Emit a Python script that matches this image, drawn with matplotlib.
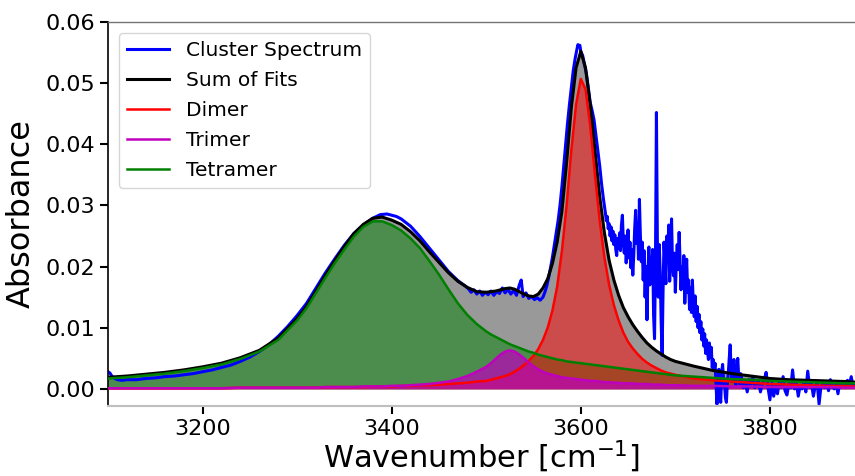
import matplotlib
matplotlib.use("Agg")
import matplotlib.pyplot as plt

# ---------------- data ----------------
fit_x = [3100, 3120, 3140, 3160, 3180, 3200, 3220, 3240, 3260, 3280,
         3300, 3310, 3320, 3330, 3340, 3350, 3360, 3370, 3380, 3390,
         3400, 3410, 3420, 3430, 3440, 3450, 3460, 3470, 3480, 3490,
         3500, 3505, 3510, 3515, 3520, 3525, 3530, 3535, 3540, 3545,
         3550, 3555, 3560, 3565, 3570, 3575, 3580, 3585, 3590, 3595,
         3600, 3605, 3610, 3615, 3620, 3625, 3630, 3635, 3640, 3645,
         3650, 3655, 3660, 3665, 3670, 3675, 3680, 3685, 3690, 3695,
         3700, 3720, 3740, 3760, 3780, 3800, 3820, 3840, 3860, 3880, 3890]

sum_of_fits = [0.0019, 0.0021, 0.0024, 0.0027, 0.0031, 0.0036, 0.0042, 0.0051, 0.0063, 0.0083,
               0.0115, 0.0135, 0.0160, 0.0186, 0.0210, 0.0233, 0.0254, 0.0269, 0.0279, 0.0281,
               0.0276, 0.0269, 0.0257, 0.0242, 0.0224, 0.0207, 0.0190, 0.0176, 0.0166, 0.0159,
               0.0158, 0.0159, 0.0160, 0.0162, 0.0164, 0.0165, 0.0163, 0.0159, 0.0155, 0.0152,
               0.0151, 0.0155, 0.0165, 0.0180, 0.0205, 0.0240, 0.0290, 0.0370, 0.0460, 0.0525,
               0.0552, 0.0525, 0.0465, 0.0390, 0.0315, 0.0255, 0.0210, 0.0178, 0.0153, 0.0133,
               0.0118, 0.0105, 0.0094, 0.0084, 0.0075, 0.0068, 0.0062, 0.0057, 0.0052, 0.0048,
               0.0045, 0.0037, 0.0030, 0.0025, 0.0021, 0.0017, 0.0015, 0.0014, 0.0013, 0.0012, 0.0011]

dimer = [0.0001, 0.0001, 0.0001, 0.0001, 0.0001, 0.0001, 0.0001, 0.0002, 0.0002, 0.0002,
         0.0002, 0.0002, 0.0002, 0.0003, 0.0003, 0.0003, 0.0003, 0.0003, 0.0004, 0.0004,
         0.0004, 0.0005, 0.0005, 0.0006, 0.0006, 0.0007, 0.0008, 0.0009, 0.0010, 0.0012,
         0.0013, 0.0015, 0.0017, 0.0019, 0.0021, 0.0024, 0.0028, 0.0033, 0.0039, 0.0046,
         0.0054, 0.0065, 0.0080, 0.0100, 0.0128, 0.0167, 0.0225, 0.0300, 0.0390, 0.0465,
         0.0507, 0.0490, 0.0430, 0.0350, 0.0275, 0.0215, 0.0170, 0.0137, 0.0112, 0.0092,
         0.0077, 0.0066, 0.0057, 0.0049, 0.0043, 0.0038, 0.0034, 0.0030, 0.0027, 0.0025,
         0.0023, 0.0017, 0.0014, 0.0012, 0.0010, 0.0008, 0.0007, 0.0006, 0.0005, 0.0005, 0.0004]

trimer = [0.0001, 0.0001, 0.0001, 0.0001, 0.0001, 0.0001, 0.0001, 0.0002, 0.0002, 0.0002,
          0.0002, 0.0002, 0.0002, 0.0003, 0.0003, 0.0003, 0.0003, 0.0004, 0.0004, 0.0004,
          0.0005, 0.0005, 0.0006, 0.0007, 0.0008, 0.0010, 0.0012, 0.0016, 0.0021, 0.0028,
          0.0036, 0.0042, 0.0049, 0.0056, 0.0061, 0.0063, 0.0061, 0.0056, 0.0050, 0.0043,
          0.0037, 0.0032, 0.0028, 0.0025, 0.0023, 0.0021, 0.0019, 0.0018, 0.0017, 0.0016,
          0.0015, 0.0014, 0.0013, 0.0013, 0.0012, 0.0011, 0.0011, 0.0010, 0.0010, 0.0009,
          0.0009, 0.0009, 0.0008, 0.0008, 0.0008, 0.0007, 0.0007, 0.0007, 0.0006, 0.0006,
          0.0006, 0.0005, 0.0005, 0.0004, 0.0004, 0.0003, 0.0003, 0.0003, 0.0003, 0.0002, 0.0002]

tetramer = [0.0017, 0.0019, 0.0022, 0.0025, 0.0029, 0.0034, 0.0040, 0.0049, 0.0061, 0.0080,
            0.0112, 0.0132, 0.0157, 0.0182, 0.0206, 0.0228, 0.0249, 0.0265, 0.0274, 0.0274,
            0.0268, 0.0259, 0.0246, 0.0230, 0.0209, 0.0187, 0.0163, 0.0140, 0.0121, 0.0106,
            0.0094, 0.0089, 0.0085, 0.0081, 0.0077, 0.0073, 0.0070, 0.0067, 0.0064, 0.0061,
            0.0059, 0.0056, 0.0054, 0.0052, 0.0050, 0.0048, 0.0047, 0.0045, 0.0044, 0.0043,
            0.0042, 0.0041, 0.0040, 0.0039, 0.0038, 0.0037, 0.0036, 0.0035, 0.0034, 0.0033,
            0.0032, 0.0031, 0.0030, 0.0029, 0.0028, 0.0027, 0.0026, 0.0025, 0.0024, 0.0023,
            0.0022, 0.0020, 0.0018, 0.0016, 0.0015, 0.0013, 0.0012, 0.0011, 0.0010, 0.0009, 0.0009]

# measured spectrum: irregular samples on the smooth part, then a 1 cm-1 and a 2 cm-1 grid
spec_x_head = [3100, 3102, 3104, 3107, 3110, 3115, 3120, 3130, 3140, 3150,
               3160, 3170, 3180, 3190, 3200, 3210, 3220, 3230, 3240, 3250,
               3260, 3270, 3280, 3290, 3300, 3310, 3320, 3330, 3340, 3350,
               3360, 3370, 3380, 3388, 3395, 3400, 3405, 3410, 3420, 3430,
               3440, 3450, 3460, 3470, 3478, 3481, 3484, 3487, 3490, 3493,
               3496, 3499, 3502, 3505, 3508, 3511, 3514, 3517, 3520, 3523,
               3526, 3529, 3532, 3535, 3537, 3539, 3542, 3545, 3548, 3551,
               3554, 3557, 3560, 3562, 3564, 3566, 3568, 3570, 3572, 3574,
               3576, 3578, 3580, 3582, 3584, 3586, 3588, 3590, 3592, 3594,
               3596, 3597, 3598, 3599, 3600, 3602, 3604, 3606, 3608, 3610,
               3612, 3614, 3616, 3618, 3620, 3622, 3624]
spec_y_head = [0.0028, 0.0026, 0.0021, 0.0017, 0.0015, 0.0014, 0.0015, 0.0015, 0.0017, 0.0018,
               0.0020, 0.0021, 0.0023, 0.0025, 0.0028, 0.0031, 0.0035, 0.0039, 0.0045, 0.0052,
               0.0061, 0.0072, 0.0086, 0.0102, 0.0120, 0.0140, 0.0165, 0.0190, 0.0213, 0.0235,
               0.0254, 0.0268, 0.0279, 0.0285, 0.0286, 0.0284, 0.0282, 0.0278, 0.0266, 0.0249,
               0.0230, 0.0211, 0.0192, 0.0177, 0.0168, 0.0164, 0.0158, 0.0162, 0.0155, 0.0160,
               0.0153, 0.0158, 0.0154, 0.0160, 0.0153, 0.0159, 0.0156, 0.0165, 0.0157, 0.0163,
               0.0155, 0.0161, 0.0153, 0.0170, 0.0178, 0.0151, 0.0157, 0.0148, 0.0151, 0.0146,
               0.0149, 0.0145, 0.0150, 0.0158, 0.0168, 0.0182, 0.0198, 0.0215, 0.0235, 0.0255,
               0.0275, 0.0300, 0.0330, 0.0365, 0.0400, 0.0435, 0.0465, 0.0492, 0.0520, 0.0540,
               0.0556, 0.0563, 0.0560, 0.0562, 0.0552, 0.0545, 0.0530, 0.0515, 0.0492, 0.0468,
               0.0455, 0.0440, 0.0415, 0.0390, 0.0365, 0.0335, 0.0310]

spec_x_noisy = list(range(3626, 3771))          # 1 cm-1 steps
spec_y_noisy = [0.0288, 0.0275, 0.0282, 0.0262, 0.0270, 0.0250, 0.0265, 0.0242, 0.0258, 0.0236,
                0.0252, 0.0228, 0.0218, 0.0246, 0.0230, 0.0255, 0.0226, 0.0268, 0.0284, 0.0240,
                0.0222, 0.0250, 0.0206, 0.0232, 0.0260, 0.0214, 0.0240, 0.0198, 0.0228, 0.0186,
                0.0218, 0.0262, 0.0292, 0.0238, 0.0270, 0.0212, 0.0310, 0.0252, 0.0208, 0.0240,
                0.0178, 0.0226, 0.0150, 0.0200, 0.0113, 0.0190, 0.0232, 0.0170, 0.0215, 0.0196,
                0.0228, 0.0120, 0.0082, 0.0210, 0.0452, 0.0240, 0.0150, 0.0236, 0.0190, 0.0110,
                0.0055, 0.0160, 0.0240, 0.0205, 0.0172, 0.0250, 0.0215, 0.0268, 0.0176, 0.0230,
                0.0278, 0.0200, 0.0185, 0.0222, 0.0158, 0.0205, 0.0236, 0.0195, 0.0256, 0.0210,
                0.0162, 0.0200, 0.0170, 0.0218, 0.0140, 0.0182, 0.0212, 0.0158, 0.0178, 0.0130,
                0.0165, 0.0125, 0.0178, 0.0140, 0.0118, 0.0152, 0.0110, 0.0135, 0.0100, 0.0122,
                0.0092, 0.0110, 0.0080, 0.0098, 0.0070, 0.0090, 0.0058, 0.0080, 0.0062, 0.0048,
                0.0075, 0.0052, 0.0068, 0.0035, 0.0048, 0.0030, 0.0042, 0.0010, -0.0025, 0.0020,
                0.0032, -0.0010, -0.0022, 0.0028, 0.0040, 0.0015, 0.0008, -0.0015, -0.0022, 0.0010,
                0.0025, 0.0050, 0.0072, 0.0030, 0.0012, 0.0035, 0.0048, 0.0015, 0.0005, 0.0030,
                0.0050, 0.0020, 0.0008, 0.0025, 0.0018]

spec_x_tail = list(range(3772, 3891, 2))         # 2 cm-1 steps
spec_y_tail = [0.0002, 0.0012, -0.0005, 0.0015, 0.0008, 0.0020, 0.0002, 0.0010, 0.0012, -0.0005,
               0.0008, 0.0015, 0.0027, 0.0002, -0.0018, 0.0010, -0.0012, 0.0005, -0.0008, 0.0012,
               0.0003, 0.0020, -0.0003, -0.0010, 0.0008, 0.0002, 0.0031, 0.0000, 0.0010, -0.0012,
               0.0006, 0.0000, 0.0012, -0.0005, 0.0029, 0.0003, 0.0008, -0.0012, 0.0005, 0.0010,
               -0.0025, 0.0004, 0.0008, 0.0002, 0.0011, -0.0003, 0.0015, 0.0005, 0.0000, 0.0010,
               -0.0008, 0.0012, 0.0004, 0.0010, 0.0002, 0.0014, 0.0006, 0.0020, 0.0004, 0.0008]

labels = ["Cluster Spectrum", "Sum of Fits", "Dimer", "Trimer", "Tetramer"]
x_ticks = [3200, 3400, 3600, 3800]
y_ticks = [0.00, 0.01, 0.02, 0.03, 0.04, 0.05, 0.06]

n_fit = len(fit_x)
assert all(len(s) == n_fit for s in (sum_of_fits, dimer, trimer, tetramer))
assert len(spec_x_head) == len(spec_y_head)
assert len(spec_x_noisy) == len(spec_y_noisy), (len(spec_x_noisy), len(spec_y_noisy))
assert len(spec_x_tail) == len(spec_y_tail), (len(spec_x_tail), len(spec_y_tail))
spec_x = spec_x_head + spec_x_noisy + spec_x_tail
spec_y = spec_y_head + spec_y_noisy + spec_y_tail

# ---------------- figure ----------------
W, H = 855, 476
fig = plt.figure(figsize=(W / 100, H / 100), dpi=100)
ax = fig.add_axes([108 / W, 1 - 406 / H, 1 - 108 / W, (406 - 22) / H])

ax.fill_between(fit_x, 0, sum_of_fits, color="gray", alpha=0.8, lw=0, zorder=1)
ax.fill_between(fit_x, 0, tetramer, color="green", alpha=0.5, lw=0, zorder=1)
ax.fill_between(fit_x, 0, dimer, color="red", alpha=0.5, lw=0, zorder=1)
ax.fill_between(fit_x, 0, trimer, color="m", alpha=0.7, lw=0, zorder=1)

ax.plot(spec_x, spec_y, color="b", lw=2.2, label=labels[0], zorder=2)
ax.plot(fit_x, sum_of_fits, color="k", lw=2.2, label=labels[1], zorder=3)
ax.plot(fit_x, dimer, color="r", lw=1.8, label=labels[2], zorder=3)
ax.plot(fit_x, trimer, color="m", lw=1.8, label=labels[3], zorder=3)
ax.plot(fit_x, tetramer, color="g", lw=1.8, label=labels[4], zorder=3)

ax.set_xlim(3100, 3890)
ax.set_ylim(-0.0028, 0.06)
ax.set_xticks(x_ticks)
ax.set_yticks(y_ticks)
ax.tick_params(labelsize=16, length=6, width=1.5, color="black")

ax.spines["right"].set_visible(False)
ax.spines["left"].set_color("black")
ax.spines["left"].set_linewidth(1.2)
ax.spines["top"].set_color("0.45")
ax.spines["top"].set_linewidth(1.0)
ax.spines["bottom"].set_color("0.75")
ax.spines["bottom"].set_linewidth(1.5)

ax.set_xlabel("Wavenumber [cm$^{-1}$]", fontsize=22, labelpad=0)
ax.set_ylabel("Absorbance", fontsize=23, labelpad=6)

ax.legend(loc="upper left", fontsize=14.5, borderaxespad=0.55, labelspacing=0.55,
          handlelength=2.1)

fig.savefig("out.png", dpi=100)
